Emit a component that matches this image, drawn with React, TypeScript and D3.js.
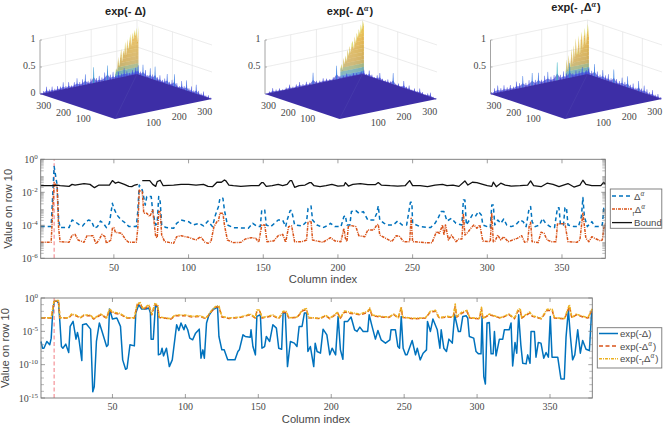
import { line, range, scaleLinear } from 'd3'

type Knot = [number, number]

// readings are [column, log10(value)]
const boundTop: Knot[] = [[1,-1.6],[10,-1.6],[12,-1.56],[14,-1.6],[18,-1.62],[20,-1.64],[22,-1.52],[24,-1.56],[30,-1.47],[34,-1.52],[37,-1.72],[40,-1.56],[44,-1.56],[47,-1.56],[49,-1.29],[51,-1.45],[53,-1.39],[57,-1.52],[60,-1.64],[62,-1.66],[64,-1.56],[66,-1.52]]
const boundRest: Knot[] = [[69,-1.29],[74,-1.29],[76,-1.52],[78,-1.64],[79,-1.35],[81,-1.27],[83,-1.6],[90,-1.56],[95,-1.52],[100,-1.52],[105,-1.56],[110,-1.52],[113,-1.64],[116,-1.66],[119,-1.39],[122,-1.39],[124,-1.25],[125,-1.31],[127,-1.56],[130,-1.6],[135,-1.64],[142,-1.6],[147,-1.6],[149,-1.41],[150,-1.41],[152,-1.64],[156,-1.6],[160,-1.52],[163,-1.6],[166,-1.52],[168,-1.29],[169,-1.29],[171,-1.7],[174,-1.6],[178,-1.56],[181,-1.41],[182,-1.41],[184,-1.6],[188,-1.66],[192,-1.6],[196,-1.52],[200,-1.62],[204,-1.6],[205,-1.41],[207,-1.62],[210,-1.52],[215,-1.47],[220,-1.54],[225,-1.54],[227,-1.41],[229,-1.56],[235,-1.6],[240,-1.62],[245,-1.6],[248,-1.29],[250,-1.6],[255,-1.6],[260,-1.66],[265,-1.56],[270,-1.52],[273,-1.6],[277,-1.56],[281,-1.64],[285,-1.31],[287,-1.56],[290,-1.39],[293,-1.41],[297,-1.52],[300,-1.6],[303,-1.64],[304,-1.39],[306,-1.66],[309,-1.45],[312,-1.56],[316,-1.62],[322,-1.6],[327,-1.56],[329,-1.31],[331,-1.6],[336,-1.66],[340,-1.45],[344,-1.52],[348,-1.66],[351,-1.56],[354,-1.47],[358,-1.68],[362,-1.56],[364,-1.27],[366,-1.52],[370,-1.6],[376,-1.6],[378,-1.39],[379,-1.52]]
const deltaAlpha: Knot[] = [[1,-4.08],[8,-4.08],[10,-0.44],[12,-1.56],[13,-3.68],[14,-4.14],[20,-4.14],[22,-3.68],[24,-3.78],[27,-3.98],[29,-4.04],[31,-3.82],[33,-3.68],[35,-3.74],[37,-4.18],[39,-4.08],[41,-3.74],[43,-3.88],[45,-4.14],[47,-3.88],[49,-2.67],[50,-2.97],[52,-3.37],[55,-3.68],[58,-3.88],[60,-4.08],[65,-4.08],[66,-3.17],[67,-1.56],[69,-1.86],[71,-2.77],[72,-2.26],[75,-2.26],[76,-3.17],[78,-3.98],[79,-3.88],[80,-2.26],[81,-2.57],[82,-3.98],[85,-4.14],[90,-4.18],[92,-3.88],[95,-3.68],[100,-3.78],[103,-3.98],[107,-3.88],[110,-4.04],[113,-3.74],[116,-4.08],[118,-3.37],[120,-2.87],[121,-2.36],[123,-2.36],[124,-3.07],[126,-3.98],[130,-4.14],[140,-4.18],[143,-3.88],[146,-4.08],[148,-4.08],[149,-3.07],[151,-3.07],[152,-3.98],[155,-4.08],[160,-3.68],[163,-3.68],[165,-4.08],[166,-3.68],[168,-3.11],[169,-3.11],[171,-3.98],[176,-4.04],[179,-3.78],[180,-2.97],[182,-2.83],[183,-3.68],[186,-3.98],[190,-4.14],[194,-3.98],[195,-3.88],[198,-4.08],[202,-4.08],[204,-3.47],[205,-3.41],[206,-3.98],[208,-3.98],[209,-3.17],[212,-3.11],[214,-3.27],[217,-3.17],[220,-3.68],[224,-3.68],[226,-3.27],[227,-2.83],[228,-3.68],[231,-3.88],[233,-3.98],[237,-3.98],[240,-3.74],[243,-3.98],[246,-3.98],[248.5,-2.61],[249.5,-2.61],[250,-3.88],[255,-4.08],[262,-4.14],[265,-3.88],[267,-3.58],[269,-3.17],[271,-3.17],[273,-3.74],[276,-3.58],[279,-3.88],[283,-3.98],[284,-2.46],[285,-2.46],[286,-3.98],[288,-3.68],[290,-3.37],[292,-3.47],[294,-3.17],[296,-3.37],[297,-3.98],[300,-4.08],[302,-4.14],[303,-2.77],[304,-2.77],[305,-3.98],[307,-3.68],[309,-3.88],[311,-3.62],[313,-3.98],[316,-4.08],[319,-3.98],[322,-3.68],[324,-3.78],[326,-4.08],[328,-2.97],[329,-2.87],[330,-3.78],[332,-4.08],[335,-3.98],[337,-3.58],[339,-3.88],[342,-4.08],[345,-4.14],[347,-2.93],[348,-2.93],[349,-3.98],[351,-3.98],[352,-2.93],[353,-2.93],[354,-3.98],[358,-4.08],[361,-4.08],[363,-3.47],[364,-2.32],[365,-3.47],[367,-4.08],[370,-3.78],[372,-4.08],[375,-4.08],[377,-3.98],[378,-2.97],[379,-2.97]]
const rDeltaAlpha: Knot[] = [[1,-5.03],[8,-5.03],[10,-1.4],[12,-1.7],[13,-4.18],[14,-4.99],[20,-5.03],[22,-4.59],[24,-4.55],[26,-4.89],[30,-5.03],[32,-4.63],[36,-4.63],[38,-5.13],[40,-4.89],[42,-4.55],[44,-4.69],[45,-5.09],[48,-4.89],[49,-4.18],[50,-4.14],[51,-4.42],[55,-4.48],[58,-4.89],[60,-5.03],[65,-5.03],[66,-4.18],[67,-1.86],[69,-1.96],[70,-3.27],[72,-3.27],[74,-3.47],[76,-3.07],[78,-4.69],[79,-4.75],[80,-3.17],[81,-3.17],[82,-4.59],[84,-4.99],[90,-5.09],[92,-4.69],[95,-4.63],[100,-4.73],[105,-4.89],[108,-4.69],[111,-5.03],[113,-5.09],[115,-4.99],[117,-4.08],[119,-3.78],[120,-3.74],[121,-3.27],[123,-3.27],[124,-3.98],[126,-4.89],[130,-5.05],[135,-5.03],[138,-4.83],[142,-4.75],[145,-4.79],[147,-5.03],[149,-3.98],[151,-3.98],[152.5,-4.99],[157,-4.95],[160,-4.63],[163,-4.55],[165,-5.03],[167,-4.08],[169,-4.04],[171,-4.99],[176,-4.99],[179,-4.89],[180,-3.82],[182,-3.74],[183,-4.89],[190,-5.03],[195,-4.75],[198,-4.95],[202,-4.99],[204,-4.18],[205,-4.79],[206,-4.99],[207,-4.04],[209,-4.02],[212,-4.08],[214,-4.63],[218,-4.69],[220,-4.28],[224,-4.28],[226,-3.98],[227,-3.94],[228,-4.59],[232,-4.79],[236,-4.99],[239,-4.63],[241,-4.65],[244,-4.99],[248,-4.99],[249,-3.58],[250,-4.99],[258,-5.05],[263,-5.05],[266,-4.38],[268,-4.48],[270,-3.98],[271,-4.59],[272,-3.98],[274,-4.89],[276,-4.59],[279,-4.99],[281,-4.83],[283,-4.83],[284,-3.27],[285,-4.59],[287,-4.42],[289,-4.18],[291,-3.98],[293,-4.18],[295,-3.98],[297,-4.95],[302,-4.99],[303,-3.27],[304,-4.99],[305,-4.99],[307,-4.59],[309,-4.89],[311,-4.69],[314,-4.99],[320,-4.79],[323,-4.63],[325,-5.03],[327,-4.99],[328,-4.08],[329,-3.82],[330,-4.99],[334,-5.05],[336,-4.42],[338,-4.48],[340,-4.89],[343,-4.99],[346,-4.99],[347,-3.9],[352,-3.9],[354,-4.99],[360,-5.03],[362,-4.89],[364,-3.27],[366,-4.79],[368,-4.99],[370,-4.69],[372,-4.79],[376,-4.95],[377,-4.89],[378,-4.18],[379,-3.88]]

const expDelta: Knot[] = [[1,-6.52],[2,-7.53],[3,-7.53],[5,-6.52],[7,-7.02],[8,-6.02],[9,-2.26],[10,-0.5],[12,-0.5],[13,-0.75],[14,-3.76],[15,-7.28],[16,-7.53],[18,-6.92],[20,-8.18],[21,-4.26],[23,-3.51],[25,-6.17],[26,-5.17],[27,-6.17],[29,-9.38],[29.5,-4.01],[32,-3.86],[35,-4.67],[36.5,-14.05],[37.5,-13.3],[39,-6.52],[41,-3.76],[42.5,-4.77],[46,-7.28],[47,-7.02],[48,-1.66],[50,-3.16],[53,-3.01],[55.5,-4.26],[57,-9.28],[59,-10.69],[60,-10.54],[62,-7.02],[65,-7.18],[66,-2.26],[68,-1],[70,-1.66],[73,-1.66],[75,-1.5],[76,-2.26],[76.5,-6.17],[78,-6.17],[79.5,-1],[81,-1.5],[81.5,-8.53],[83,-8.38],[84,-7.53],[85,-8.68],[87,-7.53],[89,-10.29],[91,-9.28],[94,-4.01],[95.5,-4.87],[97,-3.76],[99,-4.77],[100,-4.01],[101.6,-4.77],[103,-6.02],[105,-6.27],[107,-5.27],[109.5,-4.67],[110.7,-9.03],[112,-7.78],[113,-9.03],[114.5,-3.76],[116,-2.66],[118.6,-1.76],[121,-1.5],[122,-1.25],[123,-5.77],[125,-7.78],[126.6,-7.78],[129,-9.28],[132,-9.28],[134,-9.28],[136,-8.03],[137,-7.78],[139.5,-5.52],[141,-5.77],[144.5,-5.87],[145,-4.77],[146.3,-7.28],[148,-8.53],[149,-2.76],[151.4,-2.51],[152.5,-7.53],[154.3,-7.28],[155.5,-5.77],[157.8,-6.52],[160,-4.01],[162.4,-4.52],[164,-7.53],[166,-7.68],[167,-2.26],[168.5,-2.26],[170,-10.29],[172,-6.52],[174.7,-6.77],[176.5,-7.28],[178,-4.26],[180,-4.26],[181.6,-2.26],[183,-2.26],[184,-8.03],[185.7,-7.28],[188,-10.29],[189,-6.77],[190.3,-8.03],[192.6,-8.28],[194.4,-4.67],[197,-5.52],[199,-8.53],[200.6,-7.53],[203,-8.53],[204.7,-2.76],[206.3,-7.78],[208,-9.18],[209,-3.51],[211.3,-3.51],[213.6,-2.86],[216,-4.77],[217.7,-5.02],[219.6,-4.37],[221.9,-5.02],[225,-5.02],[226,-2.51],[228,-4.26],[230.3,-6.17],[232,-4.87],[234.2,-6.27],[237.2,-6.77],[240.2,-6.27],[241,-4.77],[244,-4.77],[245.7,-7.28],[246.8,-7.53],[248,-2.76],[249.3,-7.53],[251,-8.53],[252,-8.53],[255.5,-6.37],[257.8,-8.53],[259,-7.53],[261,-9.28],[263,-8.28],[265.3,-7.78],[266,-3.51],[268,-5.02],[269.7,-3.16],[272.7,-4.77],[274.5,-7.53],[275.4,-4.77],[277.2,-7.53],[279,-8.03],[280.7,-6.17],[283,-6.77],[284.6,-2.51],[287.2,-5.02],[288.6,-5.02],[290.2,-2.76],[292.5,-2.66],[293.6,-3.01],[294.7,-5.77],[297.7,-6.02],[299.3,-8.03],[301,-8.38],[302.7,-8.38],[303.4,-2.76],[304.6,-11.79],[305.7,-12.9],[306.8,-3.76],[308.4,-3.66],[309.6,-8.38],[311,-8.38],[311.9,-5.02],[313,-8.68],[315.3,-6.17],[317.6,-6.17],[318.7,-4.77],[322,-4.77],[323.3,-3.76],[324.4,-10.19],[326,-6.67],[327.2,-8.28],[328.5,-2.51],[330,-7.02],[331.3,-9.78],[333.6,-9.88],[334.7,-8.53],[336.3,-9.78],[337,-5.02],[339.3,-5.02],[340.4,-8.88],[342,-6.67],[343.8,-6.77],[345.7,-9.03],[347.3,-8.18],[348.9,-8.88],[350.2,-2.76],[351.4,-8.88],[355.3,-8.88],[357.5,-12.14],[359.8,-12.14],[361,-5.87],[362.6,-1.76],[364,-5.77],[365.5,-9.28],[367,-8.53],[369,-4.77],[370.8,-8.28],[372.4,-6.37],[374.7,-7.68],[377,-7.88],[378.5,-2.26],[379,-2.26]]
const expDeltaAlpha: Knot[] = [[1,-3.01],[8,-3.01],[10,-0.5],[13,-0.5],[14,-3.01],[20,-3.01],[22,-2.51],[25,-2.66],[28,-3.01],[30,-2.66],[35,-2.66],[37,-3.16],[42,-2.51],[46,-3.01],[48,-1.76],[50,-2.26],[55,-2.41],[60,-3.01],[65,-3.01],[67,-1],[69,-0.85],[71,-1.76],[75,-1.15],[77,-2.51],[79,-1],[81,-1.15],[82,-2.91],[90,-3.16],[93,-2.66],[100,-2.66],[105,-2.86],[110,-2.76],[114,-3.11],[118,-2],[121,-1.35],[123,-1.35],[125,-2.86],[130,-3.06],[137.6,-2.91],[144.5,-2.51],[148,-3.01],[149,-2],[151,-2],[152.5,-3.01],[160,-2.66],[164,-3.11],[167,-2.16],[169,-2.16],[171,-3.01],[176.5,-2.91],[180.7,-1.86],[183,-1.76],[184.5,-2.96],[192.5,-3.11],[196,-2.66],[199,-3.11],[204.5,-2.26],[206,-3.11],[209,-2.11],[212,-2.26],[216.6,-2.41],[220,-2.51],[225,-2.16],[226.4,-1.66],[228,-2.66],[234,-2.86],[239.5,-2.91],[243,-2.51],[246,-3.01],[248,-1.5],[249,-2.91],[256.6,-3.11],[264.6,-3.01],[268,-2.11],[271.5,-2],[274,-3.01],[279.5,-2.86],[283.6,-2.91],[285,-1.25],[286,-2.86],[289.7,-2.26],[293,-2],[295,-3.01],[301.6,-3.11],[303,-1.66],[304,-3.11],[308.4,-2.51],[316,-3.01],[322,-2.51],[325.6,-3.11],[328,-2],[329.5,-1.76],[330.6,-3.01],[336,-2.26],[338,-2.76],[344,-3.11],[348,-1.86],[351.5,-1.86],[353,-3.01],[360,-3.11],[363.3,-1.25],[365,-3.01],[368,-2.51],[371.4,-2.76],[376,-3.01],[379,-1.76]]
const expRDeltaAlpha: Knot[] = [[1,-2.96],[8,-2.96],[10,-0.4],[13,-0.4],[14,-2.96],[20,-2.96],[22,-2.41],[25,-2.56],[28,-2.96],[30,-2.56],[35,-2.56],[37,-3.11],[42,-2.41],[46,-2.96],[48,-1.6],[50,-2.11],[55,-2.31],[60,-2.96],[65,-2.96],[67,-0.85],[69,-0.7],[71,-1.6],[75,-1],[77,-2.41],[79,-0.85],[81,-1],[82,-2.86],[90,-3.11],[93,-2.56],[100,-2.56],[105,-2.76],[110,-2.66],[114,-3.06],[118,-1.86],[121,-1.2],[123,-1.2],[125,-2.76],[130,-3.01],[137.6,-2.86],[144.5,-2.41],[148,-2.96],[149,-1.8],[151,-1.8],[152.5,-2.96],[160,-2.56],[164,-3.06],[167,-2],[169,-2],[171,-2.96],[176.5,-2.86],[180.7,-1.7],[183,-1.6],[184.5,-2.91],[192.5,-3.06],[196,-2.56],[199,-3.06],[204.5,-2.11],[206,-3.06],[209,-1.96],[212,-2.11],[216.6,-2.31],[220,-2.41],[225,-2],[226.4,-1.5],[228,-2.56],[234,-2.76],[239.5,-2.86],[243,-2.41],[246,-2.96],[248,-1.35],[249,-2.86],[256.6,-3.06],[264.6,-2.96],[268,-2],[271.5,-1.86],[274,-2.96],[279.5,-2.76],[283.6,-2.86],[285,-0.9],[286,-2.76],[289.7,-2.11],[293,-1.86],[295,-2.96],[301.6,-3.06],[303,-1.4],[304,-3.06],[308.4,-2.41],[316,-2.96],[322,-2.41],[325.6,-3.06],[328,-1.8],[329.5,-1.55],[330.6,-2.96],[336,-2.11],[338,-2.66],[344,-3.06],[348,-1.7],[351.5,-1.7],[353,-2.96],[360,-3.06],[363.3,-1],[365,-2.96],[368,-2.41],[371.4,-2.66],[376,-2.96],[379,-1.6]]

const columnTicks = [50, 100, 150, 200, 250, 300, 350]
const surfaceTicks = [100, 200, 300]
const markedColumn = 10

// surface heights: peak runs along the back wall, spikes sit on the two back edges
const peakA = [0.08,0.2,0.14,0.4,0.22,0.36,0.54,0.3,0.5,0.42,0.66,0.4,0.7,0.5,0.62,0.78,0.55,0.8,0.66,0.84,0.72,0.87,0.6,0.9]
const peakB = [0.2,0.28,0.16,0.38,0.26,0.42,0.3,0.52,0.4,0.58,0.45,0.62,0.66,0.5,0.74,0.6,0.8,0.7,0.86,0.76,0.94,0.82,1.0,0.9]
const peakC = [0.1,0.36,0.16,0.44,0.22,0.3,0.54,0.24,0.6,0.36,0.72,0.42,0.5,0.76,0.4,0.66,0.82,0.5,0.72,0.88,0.56,0.76,0.94,0.7]
const leftSpikesA = [0.03,0.05,0.12,0.06,0.1,0.05,0.09,0.07,0.14,0.06,0.12,0.05,0.1,0.16,0.08,0.12,0.2,0.07,0.1,0.3,0.09,0.12,0.08,0.16,0.28,0.1,0.14,0.06,0.12,0.08,0.17,0.1,0.06,0.1,0.08,0.05]
const rightSpikesA = [0.12,0.18,0.08,0.22,0.14,0.06,0.2,0.1,0.26,0.08,0.13,0.06,0.1,0.2,0.07,0.12,0.24,0.09,0.05,0.16,0.08,0.2,0.07,0.12,0.06,0.18,0.08,0.05,0.1,0.04,0.06,0.03]
const leftSpikesB = [0.02,0.04,0.09,0.05,0.06,0.03,0.05,0.09,0.04,0.07,0.1,0.05,0.08,0.05,0.22,0.06,0.05,0.08,0.06,0.04,0.06,0.26,0.06,0.05,0.08,0.04,0.06,0.05,0.04,0.03]
const rightSpikesB = [0.05,0.1,0.04,0.12,0.06,0.03,0.08,0.14,0.05,0.04,0.07,0.05,0.22,0.04,0.06,0.03,0.14,0.05,0.09,0.03,0.07,0.04,0.1,0.05,0.03,0.06,0.09,0.03,0.02]
const leftSpikesC = [0.04,0.1,0.14,0.08,0.12,0.07,0.1,0.06,0.14,0.1,0.22,0.08,0.12,0.24,0.1,0.22,0.08,0.14,0.2,0.1,0.12,0.34,0.1,0.15,0.1,0.28,0.08,0.12,0.1,0.16,0.07,0.1]
const rightSpikesC = [0.08,0.14,0.1,0.24,0.12,0.08,0.18,0.1,0.14,0.08,0.26,0.1,0.08,0.16,0.1,0.22,0.08,0.12,0.06,0.2,0.08,0.15,0.1,0.06,0.12,0.05,0.08,0.04]

const spikeColor = scaleLinear<string>()
	.domain([0, 0.12, 0.26, 0.34])
	.range(['#4a3ec8', '#3a48e0', '#2a78e0', '#2fb0c0'])
	.clamp(true)
const peakColor = scaleLinear<string>()
	.domain([0, 0.1, 0.18, 0.3, 0.7, 1])
	.range(['#3d48c8', '#2a90d0', '#7fa878', '#c8a040', '#e0aa30', '#e8c83a'])
	.clamp(true)

const axisColor = '#757575'
const textColor = '#484848'
const serif = '"Liberation Serif", serif'
const sans = '"Liberation Sans", sans-serif'

interface SurfaceProps {
	left: [number, number]
	front: [number, number]
	right: [number, number]
	zLabels: number[]
	peak: number[]
	leftSpikes: number[]
	rightSpikes: number[]
}

function Surface({ left, front, right, zLabels, peak, leftSpikes, rightSpikes }: SurfaceProps) {
	const span = scaleLinear().domain([0, 379]).range([0, 1])
	const zScale = scaleLinear().domain([0, 1]).range([0, 54])
	const project = (col: number, row: number, z = 0): [number, number] => [
		front[0] + span(col) * (right[0] - front[0]) + span(row) * (left[0] - front[0]),
		front[1] + span(col) * (right[1] - front[1]) + span(row) * (left[1] - front[1]) - zScale(z),
	]
	const poly = (pts: [number, number][]) => pts.map((p) => p.join(',')).join(' ')
	const peakCol = scaleLinear().domain([0, peak.length - 1]).range([288, 379])
	const bands = range(0, 1, 0.07)

	const spikes = (values: number[], at: (t: number) => [number, number], key: string) => {
		const pos = scaleLinear().domain([0, values.length - 1]).range([0, 379])
		const rim = values.map((h, i) => {
			const [col, row] = at(pos(i))
			return project(col, row, h * 0.4)
		})
		const [c0, r0] = at(0)
		const [c1, r1] = at(379)
		return (
			<g key={key}>
				<polygon points={poly([project(c0, r0), ...rim, project(c1, r1)])} fill='#5a50d0' opacity={0.75} />
				{values.map((h, i) => {
					const [col, row] = at(pos(i))
					return (
						<polygon
							key={i}
							points={poly([project(col - 3, row), project(col - 1, row, h), project(col + 1, row, h), project(col + 3, row)])}
							fill={spikeColor(h)}
							opacity={0.85}
						/>
					)
				})}
			</g>
		)
	}

	return (
		<g>
			{[0.5, 1].map((z) => (
				<polyline key={z} points={poly([project(0, 379, z), project(379, 379, z), project(379, 0, z)])} fill='none' stroke='#e4e4e4' strokeWidth={0.7} />
			))}
			{surfaceTicks.map((t) => (
				<g key={t} stroke='#e4e4e4' strokeWidth={0.7}>
					<line x1={project(t, 379)[0]} y1={project(t, 379)[1]} x2={project(t, 379, 1)[0]} y2={project(t, 379, 1)[1]} />
					<line x1={project(379, t)[0]} y1={project(379, t)[1]} x2={project(379, t, 1)[0]} y2={project(379, t, 1)[1]} />
				</g>
			))}
			<line x1={project(379, 379)[0]} y1={project(379, 379)[1]} x2={project(379, 379, 1)[0]} y2={project(379, 379, 1)[1]} stroke='#e4e4e4' strokeWidth={0.7} />
			<line x1={left[0]} y1={left[1]} x2={left[0]} y2={project(0, 379, 1)[1]} stroke='#9a9a9a' strokeWidth={0.9} />
			{zLabels.map((z) => (
				<g key={z}>
					<line x1={left[0]} x2={left[0] + 2} y1={project(0, 379, z)[1]} y2={project(0, 379, z)[1]} stroke='#9a9a9a' strokeWidth={0.7} />
					<text x={left[0] - 4.5} y={project(0, 379, z)[1] + 2} textAnchor='end' fontFamily={serif} fontSize={10} fill={textColor}>{z}</text>
				</g>
			))}
			{/* peak, drawn as stacked colour bands so that it fades from blue to yellow */}
			{peak.slice(0, -1).map((h, i) =>
				bands.filter((b) => b < Math.max(h, peak[i + 1])).map((b) => {
					const top = b + 0.07
					const tip = peak[i + 1] > h && top >= peak[i + 1] - 0.04
					return (
						<polygon
							key={`${i}-${b}`}
							points={poly([
								project(peakCol(i), 372, Math.min(b, h)),
								project(peakCol(i + 1), 372, Math.min(b, peak[i + 1])),
								project(peakCol(i + 1), 372, Math.min(top, peak[i + 1])),
								project(peakCol(i), 372, Math.min(top, h)),
							])}
							fill={tip ? '#d4e45a' : peakColor(top)}
							opacity={0.9}
						/>
					)
				}),
			)}
			{spikes(leftSpikes, (t) => [t, 374], 'l')}
			{spikes(rightSpikes, (t) => [374, 379 - t], 'r')}
			<polygon points={poly([project(0, 0), project(379, 0), project(379, 379), project(0, 379)])} fill='#3d2ea6' />
			<line x1={front[0]} y1={front[1]} x2={project(379, 379)[0]} y2={project(379, 379)[1]} stroke='#5a55b4' strokeWidth={0.5} opacity={0.6} />
			{surfaceTicks.map((t) => (
				<g key={t} fontFamily={serif} fontSize={10} fill={textColor} textAnchor='middle'>
					<text x={project(t, 0)[0] + 13} y={project(t, 0)[1] + 12}>{t}</text>
					<text x={project(0, t)[0] - 12} y={project(0, t)[1] + 10}>{t}</text>
				</g>
			))}
		</g>
	)
}

function Delta({ alpha, sub }: { alpha?: boolean; sub?: boolean }) {
	return (
		<>
			{sub && <tspan dy={3} fontSize='0.7em'>r</tspan>}
			<tspan dy={sub ? -3 : 0}>Δ</tspan>
			{alpha && <tspan dy={-4} fontFamily={serif} fontStyle='italic' fontSize='0.75em'>α</tspan>}
			{alpha && <tspan dy={4}>{'\u200a'}</tspan>}
		</>
	)
}

interface SeriesStyle {
	knots: Knot[]
	color: string
	width: number
	dash?: string
}

interface LogPanelProps {
	x: [number, number]
	y: [number, number]
	yMin: number
	yStep: number
	minorLog: boolean
	series: SeriesStyle[]
	xLabelY: number
	xTitleX: number
	xTitleY: number
	yTitleX: number
}

function LogPanel({ x, y, yMin, yStep, minorLog, series, xLabelY, xTitleX, xTitleY, yTitleX }: LogPanelProps) {
	const xScale = scaleLinear().domain([1, 379]).range(x)
	const yScale = scaleLinear().domain([yMin, 0]).range(y)
	const path = line<Knot>().x((d) => xScale(d[0])).y((d) => yScale(d[1]))
	const majors = range(yMin, 1, yStep)
	const minors = minorLog
		? range(yMin, 0).flatMap((e) => [2, 3, 4, 5, 6, 7, 8, 9].map((m) => e + Math.log10(m)))
		: range(yMin, 1).filter((e) => e % yStep !== 0)

	return (
		<g>
			<line x1={xScale(markedColumn)} x2={xScale(markedColumn)} y1={y[0]} y2={y[1]} stroke='#f4898f' strokeWidth={1.1} strokeDasharray='4,2.5' />
			{series.map((s, i) => (
				<path key={i} d={path(s.knots) ?? ''} fill='none' stroke={s.color} strokeWidth={s.width} strokeDasharray={s.dash} strokeLinejoin='round' />
			))}
			<rect x={x[0]} y={y[1]} width={x[1] - x[0]} height={y[0] - y[1]} fill='none' stroke={axisColor} strokeWidth={0.9} />
			{minors.map((e) => (
				<g key={e} stroke={axisColor} strokeWidth={0.5}>
					<line x1={x[0]} x2={x[0] + 3} y1={yScale(e)} y2={yScale(e)} />
					<line x1={x[1]} x2={x[1] - 3} y1={yScale(e)} y2={yScale(e)} />
				</g>
			))}
			{majors.map((e) => (
				<g key={e}>
					<line x1={x[0]} x2={x[0] + 4} y1={yScale(e)} y2={yScale(e)} stroke={axisColor} strokeWidth={0.7} />
					<line x1={x[1]} x2={x[1] - 4} y1={yScale(e)} y2={yScale(e)} stroke={axisColor} strokeWidth={0.7} />
					<text x={x[0] - 3} y={yScale(e) + 3.5} textAnchor='end' fontFamily={serif} fontSize={10} fill={textColor}>
						10<tspan dy={-4} fontSize={7}>{e}</tspan>
					</text>
				</g>
			))}
			{columnTicks.map((t) => (
				<g key={t}>
					<line x1={xScale(t)} x2={xScale(t)} y1={y[0]} y2={y[0] - 4} stroke={axisColor} strokeWidth={0.7} />
					<line x1={xScale(t)} x2={xScale(t)} y1={y[1]} y2={y[1] + 4} stroke={axisColor} strokeWidth={0.7} />
					<text x={xScale(t)} y={xLabelY} textAnchor='middle' fontFamily={serif} fontSize={10} fill={textColor}>{t}</text>
				</g>
			))}
			<text x={xTitleX} y={xTitleY} textAnchor='middle' fontFamily={sans} fontSize={11.2} fill={textColor}>Column index</text>
			<text transform={`translate(${yTitleX},${(y[0] + y[1]) / 2}) rotate(-90)`} textAnchor='middle' fontFamily={sans} fontSize={11.2} fill={textColor}>Value on row 10</text>
		</g>
	)
}

const blue = '#0072BD'
const red = '#D95319'
const yellow = '#EDB120'

export default function App() {
	return (
		<svg width={664} height={426} style={{ position: 'absolute', left: 0, top: 0, background: '#fff' }}>
			<Surface left={[40, 94]} front={[115, 119]} right={[212, 99]} zLabels={[0, 0.5, 1]} peak={peakA} leftSpikes={leftSpikesA} rightSpikes={rightSpikesA} />
			<Surface left={[265, 94]} front={[339.5, 119]} right={[437, 99]} zLabels={[0.5, 1]} peak={peakB} leftSpikes={leftSpikesB} rightSpikes={rightSpikesB} />
			<Surface left={[490.5, 94]} front={[565, 119]} right={[662, 99]} zLabels={[0.5, 1]} peak={peakC} leftSpikes={leftSpikesC} rightSpikes={rightSpikesC} />

			<g fontFamily={sans} fontWeight='bold' fontSize={11} textAnchor='middle' fill='#222'>
				<text x={125.5} y={15}>exp(- <Delta />)</text>
				<text x={350} y={15}>exp(- <Delta alpha />)</text>
				<text x={576} y={11}>exp(- <Delta alpha sub />)</text>
			</g>

			<LogPanel
				x={[40.7, 605.3]}
				y={[258.3, 159.3]}
				yMin={-6}
				yStep={2}
				minorLog
				series={[
					{ knots: deltaAlpha, color: blue, width: 1.5, dash: '4,3' },
					{ knots: rDeltaAlpha, color: red, width: 1.5, dash: '3,1,1,1' },
					{ knots: boundTop, color: '#111', width: 1.3 },
					{ knots: boundRest, color: '#111', width: 1.3 },
				]}
				xLabelY={271}
				xTitleX={323}
				xTitleY={283}
				yTitleX={12}
			/>
			<LogPanel
				x={[41, 592.3]}
				y={[398, 298]}
				yMin={-15}
				yStep={5}
				minorLog={false}
				series={[
					{ knots: expDelta, color: blue, width: 1.5 },
					{ knots: expDeltaAlpha, color: red, width: 1.5, dash: '4,2.5' },
					{ knots: expRDeltaAlpha, color: yellow, width: 1.6, dash: '3,1,1,1' },
				]}
				xLabelY={410}
				xTitleX={316}
				xTitleY={423}
				yTitleX={9}
			/>

			<g fontFamily={sans} fontSize={9.6} fill={textColor}>
				<rect x={610.3} y={189} width={51.5} height={39.3} fill='#fff' stroke={axisColor} strokeWidth={0.9} />
				<line x1={612} x2={632} y1={196} y2={196} stroke={blue} strokeWidth={1.5} strokeDasharray='4,3' />
				<text x={634} y={199.5}><Delta alpha /></text>
				<line x1={612} x2={632} y1={209} y2={209} stroke={red} strokeWidth={1.5} strokeDasharray='3,1,1,1' />
				<text x={632.5} y={212.5}><Delta alpha sub /></text>
				<line x1={612} x2={632} y1={222.6} y2={222.6} stroke='#111' strokeWidth={1.3} />
				<text x={634} y={226}>Bound</text>

				<rect x={597.3} y={327.7} width={64.5} height={40.3} fill='#fff' stroke={axisColor} strokeWidth={0.9} />
				<line x1={599} x2={618} y1={333.5} y2={333.5} stroke={blue} strokeWidth={1.5} />
				<text x={620} y={337}>exp(-<Delta />)</text>
				<line x1={599} x2={618} y1={346} y2={346} stroke={red} strokeWidth={1.5} strokeDasharray='4,2.5' />
				<text x={620} y={349.5}>exp(-<Delta alpha />)</text>
				<line x1={599} x2={618} y1={358.7} y2={358.7} stroke={yellow} strokeWidth={1.6} strokeDasharray='3,1,1,1' />
				<text x={620} y={362.2}>exp(-<Delta alpha sub />)</text>
			</g>
		</svg>
	)
}
